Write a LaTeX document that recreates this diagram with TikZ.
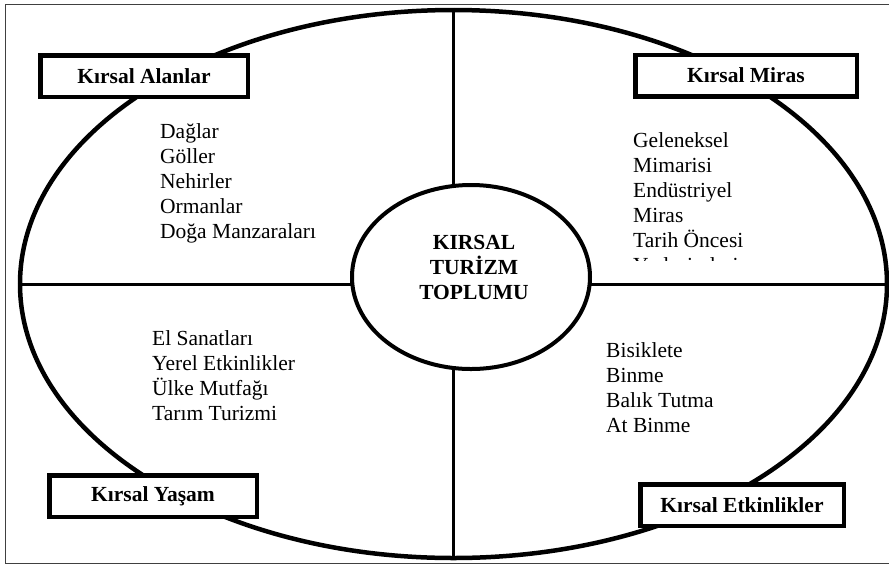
\documentclass[tikz,border=0pt]{standalone}
\usepackage{fontspec}
\setmainfont{Liberation Serif}
\usetikzlibrary{positioning}
\usetikzlibrary{shapes.geometric}

\tikzset{
	rim/.style={draw, ellipse, line width=4.5pt, inner sep=0pt},
	divider/.style={line width=3pt},
	quadbox/.style={draw, line width=4.5pt, fill=white, inner sep=0pt,
		minimum height=41.5pt, font=\fontsize{21.5}{25}\selectfont\bfseries},
	itemtext/.style={anchor=base west, inner sep=0pt, font=\fontsize{21.5}{25}\selectfont},
	hubtext/.style={anchor=base, inner sep=0pt, font=\fontsize{21.5}{25}\selectfont\bfseries},
}

\begin{document}
\begin{tikzpicture}[x=1pt,y=-1pt]
	
	\useasboundingbox (0,0) rectangle (889,566);
	
	% frame round the whole figure (its right side falls off the page)
	\draw[line width=1.2pt, black!75] (5.5,4.5) rectangle (895,563.5);
	
	% NOTE: THE BIG ELLIPSE IS A NODE, SO THE TWO DIVIDERS 
	%		RUN FROM ITS COMPASS ANCHORS
	\node[rim, minimum width=867pt, minimum height=548pt] (rim) at (453.5,284) {};
	
	\draw[divider] (rim.north) -- (rim.south);
	\draw[divider] (rim.west) -- (rim.east);
	
	% centre ellipse covers the crossing
	\node[rim, line width=4pt, fill=white, minimum width=238pt, minimum height=184pt] (core) at (471,277) {};
	
	\foreach \txt [count=\i] in {KIRSAL, TURİZM, TOPLUMU}
		\node[hubtext] (hub\i) at (474, 224+25*\i) {\txt};
	
	%%%%%%%%%%%%%%%%%%%%%%%%%%%%%%%%%%%%%%%%%%%%%%%%%%%%%%%%%%%%%%
	% the four title boxes, sitting on the rim
	\node[quadbox, minimum width=207.5pt] (alanlar) at (144,76) {Kırsal Alanlar};
	\node[quadbox, minimum width=221.5pt] (miras) at (746,75.5) {Kırsal Miras};
	\node[quadbox, minimum width=207.5pt] (yasam) at (153,496) {Kırsal Yaşam};
	\node[quadbox, minimum width=203.5pt] (etkinlik) at (742,505) {Kırsal Etkinlikler};
	
	%%%%%%%%%%%%%%%%%%%%%%%%%%%%%%%%%%%%%%%%%%%%%%%%%%%%%%%%%%%%%%
	% the lists, one line per node
	\foreach \txt [count=\i] in {Dağlar, Göller, Nehirler, Ormanlar, Doğa Manzaraları}
		\node[itemtext] (al\i) at (160, 113.5+25*\i) {\txt};
	
	\foreach \txt [count=\i] in {Geleneksel, Mimarisi, Endüstriyel, Miras, Tarih Öncesi}
		\node[itemtext] (mi\i) at (633, 122+25*\i) {\txt};
	
	% the sixth line is cut off in the figure: only its top shows
	\begin{scope}
		\clip (620,252) rectangle (760,260);
		\node[itemtext] (mi6) at (633, 272) {Yerleşimleri};
	\end{scope}
	
	\foreach \txt [count=\i] in {El Sanatları, Yerel Etkinlikler, Ülke Mutfağı, Tarım Turizmi}
		\node[itemtext] (ya\i) at (152, 320+25*\i) {\txt};
	
	\foreach \txt [count=\i] in {Bisiklete, Binme, Balık Tutma, At Binme}
		\node[itemtext] (et\i) at (606, 332+25*\i) {\txt};
	
\end{tikzpicture}
\end{document}
